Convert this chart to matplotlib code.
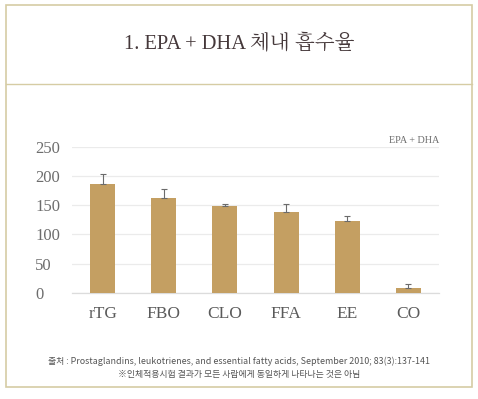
import matplotlib
matplotlib.use("Agg")
import matplotlib.pyplot as plt
from matplotlib.patches import Rectangle
from matplotlib.lines import Line2D

# data
categories = ["rTG", "FBO", "CLO", "FFA", "EE", "CO"]
values = [187, 162, 149, 138, 123, 8]
err_up = [16, 16, 3, 14, 8, 8]
yticks = [0, 50, 100, 150, 200, 250]

W, H = 478, 399
BAR = "#c49f62"
BORDER = "#d6cca4"
SERIF = ["Liberation Serif", "Noto Serif CJK KR", "Noto Sans CJK KR", "DejaVu Serif"]
SANS = ["Noto Sans CJK KR", "DejaVu Sans"]

fig = plt.figure(figsize=(W / 100, H / 100), dpi=100)


def fx(px):
    return px / W


def fy(py):
    return 1 - py / H


# frame and title separator
fig.patches.append(Rectangle((fx(6), fy(387)), fx(472) - fx(6), fy(5) - fy(387),
                             transform=fig.transFigure, fill=False,
                             edgecolor=BORDER, lw=1.2))
fig.lines.append(Line2D([fx(6), fx(472)], [fy(84), fy(84)],
                        transform=fig.transFigure, color=BORDER, lw=1.0))

fig.text(0.5, fy(44), "1. EPA + DHA 체내 흡수율", ha="center", va="center",
         fontsize=14.8, color="#45383a", family=SERIF)

ax = fig.add_axes([fx(72), fy(293), fx(439) - fx(72), fy(146.7) - fy(293)])
x = range(len(categories))
ax.bar(x, values, width=0.41, color=BAR, zorder=3)
ax.errorbar(x, values, yerr=[[0] * len(values), err_up], fmt="none",
            ecolor="#6b6b6b", elinewidth=0.8, capsize=2.2, capthick=0.8,
            zorder=4)

ax.set_xlim(-0.5, len(categories) - 0.5)
ax.set_ylim(0, 250)
ax.set_yticks(yticks)
ax.set_yticklabels([str(v) for v in yticks])
ax.set_xticks(list(x))
ax.set_xticklabels(categories)
ax.grid(axis="y", color="#ebebeb", lw=0.9, zorder=0)
for s in ["top", "right", "left"]:
    ax.spines[s].set_visible(False)
ax.spines["bottom"].set_color("#dcdcdc")
ax.spines["bottom"].set_linewidth(0.9)
ax.tick_params(length=0)
ax.tick_params(axis="y", pad=26.5, labelsize=12, labelcolor="#6d6d6d")
ax.tick_params(axis="x", pad=9, labelsize=12.5, labelcolor="#5a5a5a")
for lbl in ax.get_xticklabels() + ax.get_yticklabels():
    lbl.set_family(SERIF)
for lbl in ax.get_yticklabels():
    lbl.set_horizontalalignment("left")

ax.text(1.0, 1.045, "EPA + DHA", transform=ax.transAxes, ha="right",
        va="center", fontsize=7.3, color="#6d6d6d", family=SERIF)

fig.text(0.5, fy(361), "출처 : Prostaglandins, leukotrienes, and essential fatty acids, "
         "September 2010; 83(3):137-141", ha="center", va="center",
         fontsize=6.4, color="#555555", family=SANS)
fig.text(0.5, fy(375), "※인체적용시험 결과가 모든 사람에게 동일하게 나타나는 것은 아님",
         ha="center", va="center", fontsize=6.4, color="#555555", family=SANS)

fig.savefig("out.png", dpi=100)
